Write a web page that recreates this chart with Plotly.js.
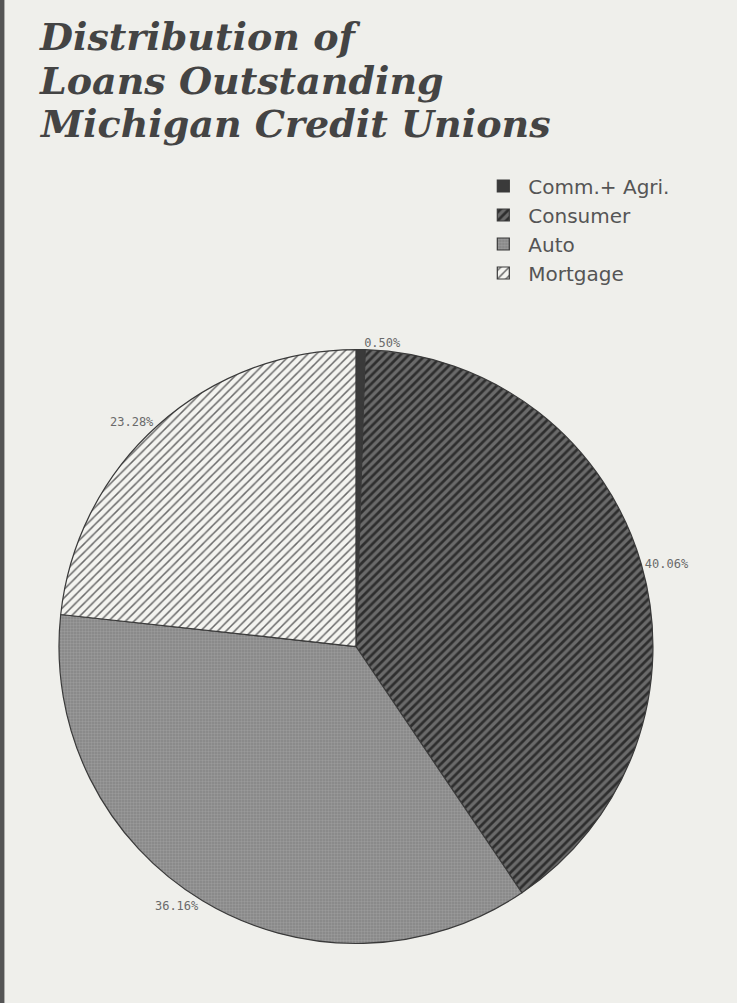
<!DOCTYPE html>
<html>
<head>
<meta charset="utf-8">
<script src="https://cdn.plot.ly/plotly-3.0.1.min.js"></script>
<style>
html,body{margin:0;padding:0;background:#efefeb;}
#chart{width:737px;height:1003px;}
</style>
</head>
<body>
<div id="chart"></div>
<script>
const titleLines = ["Distribution of", "Loans Outstanding", "Michigan Credit Unions"];
const categories = ["Comm.+ Agri.", "Consumer", "Auto", "Mortgage"];
const shares = [0.50, 40.06, 36.16, 23.28];
const labelsText = ["0.50%", "40.06%", "36.16%", "23.28%"];

const trace = {
  type: "pie",
  labels: categories,
  values: shares,
  text: labelsText,
  textinfo: "text",
  textposition: "outside",
  sort: false,
  direction: "clockwise",
  rotation: 0,
  hoverinfo: "label+percent",
  outsidetextfont: {family: "DejaVu Sans Mono, monospace", size: 12, color: "#6a6a6a"},
  marker: {
    colors: ["#3a3a3a", "#5a5a5a", "#8c8c8c", "#f4f4f0"],
    line: {color: "#3a3a3a", width: 1.2},
    pattern: {
      shape: ["", "/", ".", "/"],
      fgcolor: ["#3a3a3a", "#2e2e2e", "#9a9a9a", "#6a6a6a"],
      bgcolor: ["#3a3a3a", "#6a6a6a", "#858585", "#f4f4f0"],
      size: [8, 6, 3, 6],
      solidity: [0.3, 0.45, 0.5, 0.25]
    }
  },
  domain: {x: [0.080, 0.886], y: [0.0593, 0.6515]}
};

const titleBottoms = [0.9397, 0.8963, 0.8530];
const annotations = titleLines.map((t, i) => ({
  text: "<b><i>" + t + "</i></b>",
  xref: "paper", yref: "paper",
  x: 0.052, y: titleBottoms[i],
  xanchor: "left", yanchor: "bottom",
  showarrow: false,
  borderpad: 0,
  font: {family: "DejaVu Serif, serif", size: 38, color: "#444444"}
}));

const layout = {
  width: 737,
  height: 1003,
  paper_bgcolor: "#efefeb",
  plot_bgcolor: "#efefeb",
  margin: {l: 0, r: 0, t: 0, b: 0},
  showlegend: true,
  legend: {
    x: 0.649, y: 0.834, xanchor: "left", yanchor: "top",
    bgcolor: "rgba(0,0,0,0)",
    font: {family: "DejaVu Sans, sans-serif", size: 20, color: "#555555"},
    itemwidth: 40,
    tracegroupgap: 0
  },
  annotations: annotations,
  shapes: [
    {type: "rect", xref: "paper", yref: "paper", x0: 0, x1: 0.006, y0: 0, y1: 1,
     fillcolor: "#555555", line: {width: 0}}
  ]
};

Plotly.newPlot("chart", [trace], layout, {displayModeBar: false, staticPlot: true});
</script>
</body>
</html>
